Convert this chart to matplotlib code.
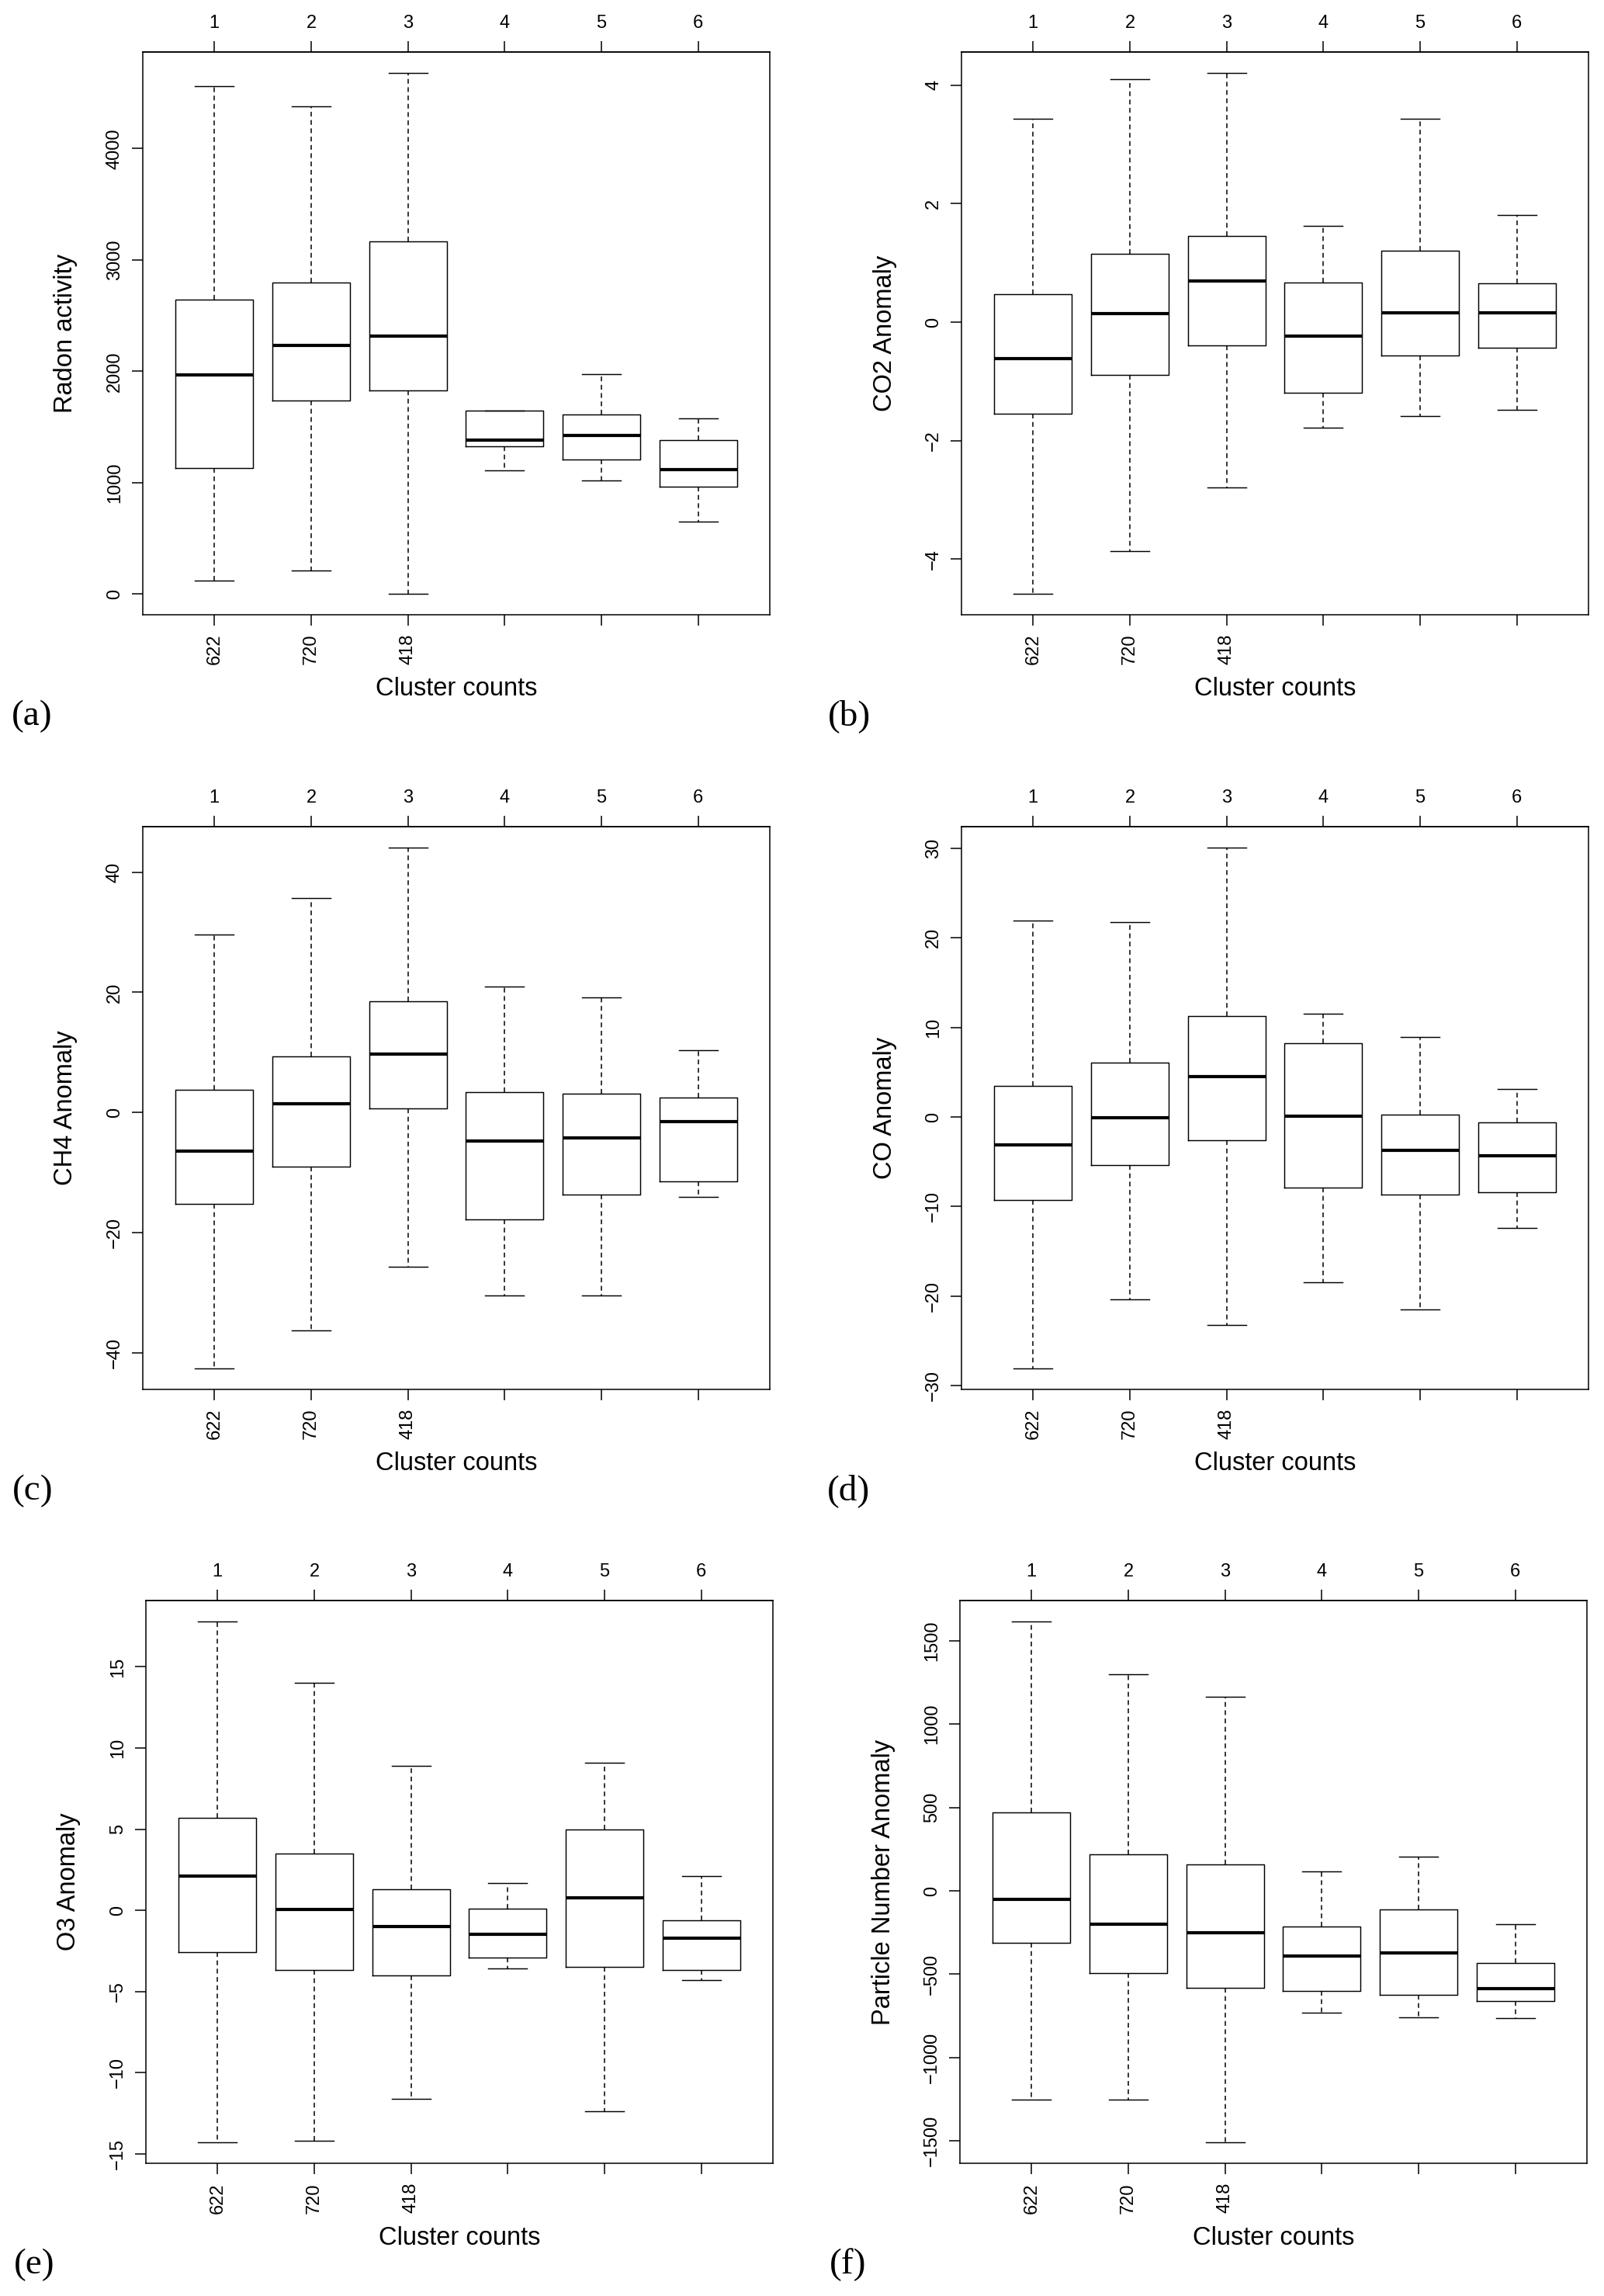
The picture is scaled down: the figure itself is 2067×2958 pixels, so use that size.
import matplotlib
matplotlib.use("Agg")
import matplotlib.pyplot as plt

plt.rcParams['font.family'] = ['Liberation Sans', 'DejaVu Sans']

clusters = ['1', '2', '3', '4', '5', '6']
cluster_counts = ['622', '720', '418', '', '', '']
xlabel = 'Cluster counts'

# box statistics: lower whisker, Q1, median, Q3, upper whisker
radon_lo = [122, 211, 0, 1111, 1018, 650]
radon_q1 = [1128, 1740, 1829, 1326, 1208, 963]
radon_med = [1968, 2230, 2315, 1381, 1423, 1115]
radon_q3 = [2644, 2796, 3164, 1643, 1609, 1381]
radon_hi = [4562, 4376, 4680, 1643, 1977, 1575]
radon_ticks = [0, 1000, 2000, 3000, 4000]

co2_lo = [-4.59, -3.87, -2.79, -1.78, -1.59, -1.48]
co2_q1 = [-1.55, -0.89, -0.39, -1.19, -0.57, -0.43]
co2_med = [-0.61, 0.15, 0.69, -0.24, 0.16, 0.16]
co2_q3 = [0.47, 1.16, 1.46, 0.67, 1.21, 0.65]
co2_hi = [3.44, 4.10, 4.21, 1.62, 3.43, 1.81]
co2_ticks = [-4, -2, 0, 2, 4]

ch4_lo = [-42.6, -36.2, -25.7, -30.5, -30.5, -14.1]
ch4_q1 = [-15.2, -9.0, 0.7, -17.8, -13.6, -11.5]
ch4_med = [-6.4, 1.4, 9.7, -4.7, -4.2, -1.5]
ch4_q3 = [3.8, 9.3, 18.5, 3.4, 3.1, 2.5]
ch4_hi = [29.6, 35.7, 44.1, 20.9, 19.2, 10.4]
ch4_ticks = [-40, -20, 0, 20, 40]

co_lo = [-28.1, -20.4, -23.2, -18.5, -21.5, -12.4]
co_q1 = [-9.3, -5.4, -2.6, -7.9, -8.7, -8.4]
co_med = [-3.1, -0.05, 4.5, 0.1, -3.7, -4.3]
co_q3 = [3.5, 6.1, 11.3, 8.2, 0.3, -0.6]
co_hi = [21.9, 21.8, 30.1, 11.5, 8.9, 3.1]
co_ticks = [-30, -20, -10, 0, 10, 20, 30]

o3_lo = [-14.3, -14.2, -11.6, -3.6, -12.4, -4.3]
o3_q1 = [-2.6, -3.7, -4.0, -2.9, -3.5, -3.7]
o3_med = [2.1, 0.03, -1.0, -1.5, 0.75, -1.7]
o3_q3 = [5.7, 3.5, 1.3, 0.1, 5.0, -0.6]
o3_hi = [17.8, 14.0, 8.9, 1.7, 9.1, 2.1]
o3_ticks = [-15, -10, -5, 0, 5, 10, 15]

pn_lo = [-1253, -1253, -1509, -733, -759, -762]
pn_q1 = [-314, -494, -581, -599, -625, -660]
pn_med = [-52, -201, -253, -390, -372, -587]
pn_q3 = [471, 221, 157, -215, -113, -433]
pn_hi = [1616, 1297, 1166, 116, 203, -198]
pn_ticks = [-1500, -1000, -500, 0, 500, 1000, 1500]

W, H = 2067, 2958
fig = plt.figure(figsize=(W / 100, H / 100), dpi=100)

# (tag, ylabel, stats, ticks, left px, top px, tag x px)
panels = [
    ('(a)', 'Radon activity', (radon_lo, radon_q1, radon_med, radon_q3, radon_hi), radon_ticks, 184, 67, 15),
    ('(b)', 'CO2 Anomaly', (co2_lo, co2_q1, co2_med, co2_q3, co2_hi), co2_ticks, 1239, 67, 1067),
    ('(c)', 'CH4 Anomaly', (ch4_lo, ch4_q1, ch4_med, ch4_q3, ch4_hi), ch4_ticks, 184, 1065, 16),
    ('(d)', 'CO Anomaly', (co_lo, co_q1, co_med, co_q3, co_hi), co_ticks, 1239, 1065, 1066),
    ('(e)', 'O3 Anomaly', (o3_lo, o3_q1, o3_med, o3_q3, o3_hi), o3_ticks, 188, 2062, 18),
    ('(f)', 'Particle Number Anomaly', (pn_lo, pn_q1, pn_med, pn_q3, pn_hi), pn_ticks, 1237, 2062, 1069),
]
aw, ah = 808, 725
positions = [1, 2, 3, 4, 5, 6]

for tag, ylab, (lo, q1, med, q3, hi), ticks, left, top, tagx in panels:
    ax = fig.add_axes([left / W, 1 - (top + ah) / H, aw / W, ah / H])
    stats = [dict(whislo=a, q1=b, med=c, q3=d, whishi=e, fliers=[])
             for a, b, c, d, e in zip(lo, q1, med, q3, hi)]
    ax.bxp(stats, positions=positions, widths=0.8, capwidths=0.4, showfliers=False,
           boxprops=dict(color='black', lw=1.05),
           medianprops=dict(color='black', lw=3.0, solid_capstyle='butt'),
           whiskerprops=dict(color='black', lw=1.1, linestyle=(0, (4, 3))),
           capprops=dict(color='black', lw=1.05))
    ymin, ymax = min(lo), max(hi)
    pad = 0.04 * (ymax - ymin)
    ax.set_xlim(0.26, 6.74)
    ax.set_ylim(ymin - pad, ymax + pad)

    ax.set_yticks(ticks, [str(t).replace('-', '\u2212') for t in ticks])
    ax.tick_params(axis='y', length=10, width=1.1, pad=8, labelsize=17, labelrotation=90)
    for lab in ax.get_yticklabels():
        lab.set_va('center')
    ax.set_xticks(positions, cluster_counts, rotation=90)
    ax.tick_params(axis='x', length=10, width=1.1, pad=8, labelsize=17)

    sec = ax.secondary_xaxis('top')
    sec.set_xticks(positions, clusters)
    sec.tick_params(length=10, width=1.1, pad=9, labelsize=17)
    sec.spines['top'].set_linewidth(1.1)

    for sp in ax.spines.values():
        sp.set_linewidth(1.1)

    ax.set_ylabel(ylab, fontsize=23.5, va='center')
    ax.yaxis.set_label_coords(-99 / aw, 0.5)
    ax.set_xlabel(xlabel, fontsize=23.5, va='center')
    ax.xaxis.set_label_coords(0.5, -96 / ah)

    fig.text(tagx / W, 1 - (top + ah + 131) / H, tag, fontsize=34,
             family=['Liberation Serif', 'DejaVu Serif'], ha='left', va='center')

fig.savefig('out.png', dpi=100)
